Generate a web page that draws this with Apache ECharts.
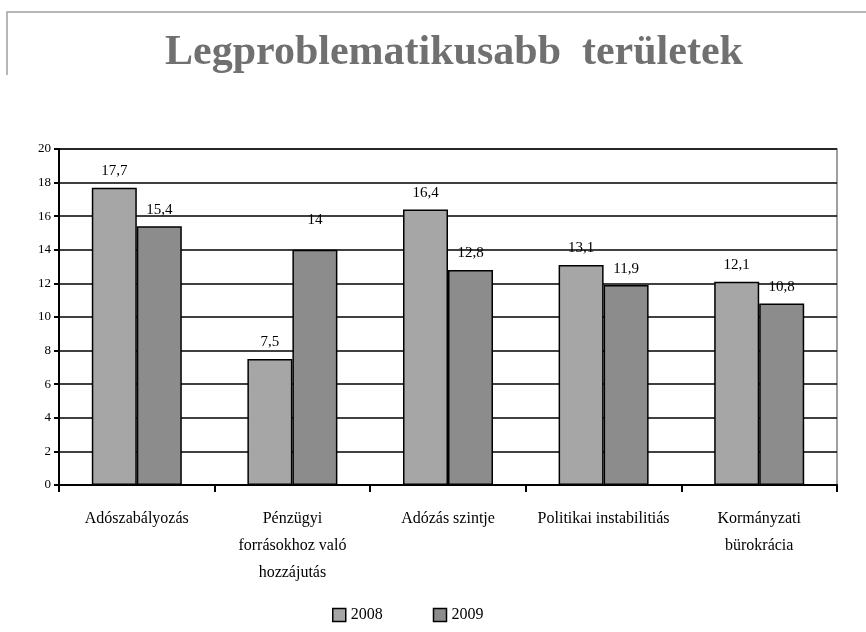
<!DOCTYPE html>
<html>
<head>
<meta charset="utf-8">
<script src="https://cdn.jsdelivr.net/npm/echarts@6/dist/echarts.min.js"></script>
<style>
  html, body { margin: 0; padding: 0; background: #fff; }
  #chart { width: 866px; height: 632px; }
</style>
</head>
<body>
<div id="chart"></div>
<script>
// adatok
const categories = [
  'Adószabályozás',
  'Pénzügyi\nforrásokhoz való\nhozzájutás',
  'Adózás szintje',
  'Politikai instabilitiás',
  'Kormányzati\nbürokrácia'
]
const values2008 = [17.7, 7.5, 16.4, 13.1, 12.1]
const values2009 = [15.4, 14, 12.8, 11.9, 10.8]
const seriesNames = ['2008', '2009']

const serif = '"Liberation Serif", "DejaVu Serif", serif'

// vesszős tizedesjel
const fmt = v => String(v).replace('.', ',')

const chart = echarts.init(document.getElementById('chart'))

// a "14" felirat az eredetin feljebb van
const data2009 = values2009.map((v, i) =>
  i === 1 ? { value: v, label: { offset: [0, -13] } } : v
)

const labelStyle = {
  show: true,
  position: 'top',
  distance: 9,
  fontFamily: serif,
  fontSize: 15,
  color: '#000',
  formatter: p => fmt(p.value)
}

const option = {
  animation: false,
  backgroundColor: '#fff',
  textStyle: { fontFamily: serif, color: '#000' },
  title: {
    text: 'Legproblematikusabb  területek',
    left: 160,
    top: 27,
    textStyle: {
      fontFamily: serif,
      fontSize: 42,
      fontWeight: 'bold',
      color: '#707070'
    }
  },
  // a kép bal felső sarkában levő keret
  graphic: [
    {
      type: 'polyline',
      shape: { points: [[7, 75], [7, 12], [866, 12]] },
      style: { stroke: '#a0a0a0', lineWidth: 1.5, fill: null }
    }
  ],
  legend: {
    bottom: 4,
    left: 327,
    itemGap: 50,
    itemWidth: 13,
    itemHeight: 13,
    icon: 'rect',
    textStyle: { fontFamily: serif, fontSize: 16, color: '#000' },
    data: seriesNames.map(n => ({
      name: n,
      itemStyle: { borderColor: '#000', borderWidth: 1.5 }
    }))
  },
  grid: {
    left: 59,
    right: 29,
    top: 149,
    bottom: 147,
    show: true,
    borderColor: '#808080',
    borderWidth: 1.5
  },
  xAxis: {
    type: 'category',
    data: categories,
    axisLine: { lineStyle: { color: '#000', width: 2 } },
    axisTick: { show: true, length: 7, lineStyle: { color: '#000', width: 2 } },
    axisLabel: {
      fontFamily: serif,
      fontSize: 16,
      color: '#000',
      lineHeight: 27,
      margin: 20,
      interval: 0
    }
  },
  yAxis: {
    type: 'value',
    min: 0,
    max: 20,
    interval: 2,
    axisLine: { show: true, lineStyle: { color: '#000', width: 2 } },
    axisTick: { show: true, length: 5, lineStyle: { color: '#000', width: 2 } },
    axisLabel: { fontFamily: serif, fontSize: 13, color: '#000', margin: 8 },
    splitLine: { lineStyle: { color: '#000', width: 1.5 } }
  },
  series: [
    {
      name: seriesNames[0],
      type: 'bar',
      data: values2008,
      barWidth: 45,
      barGap: '0%',
      itemStyle: { color: '#a6a6a6', borderColor: '#000', borderWidth: 1.5 },
      label: labelStyle
    },
    {
      name: seriesNames[1],
      type: 'bar',
      data: data2009,
      barWidth: 45,
      itemStyle: { color: '#8c8c8c', borderColor: '#000', borderWidth: 1.5 },
      label: labelStyle
    }
  ]
}

chart.setOption(option)
</script>
</body>
</html>
